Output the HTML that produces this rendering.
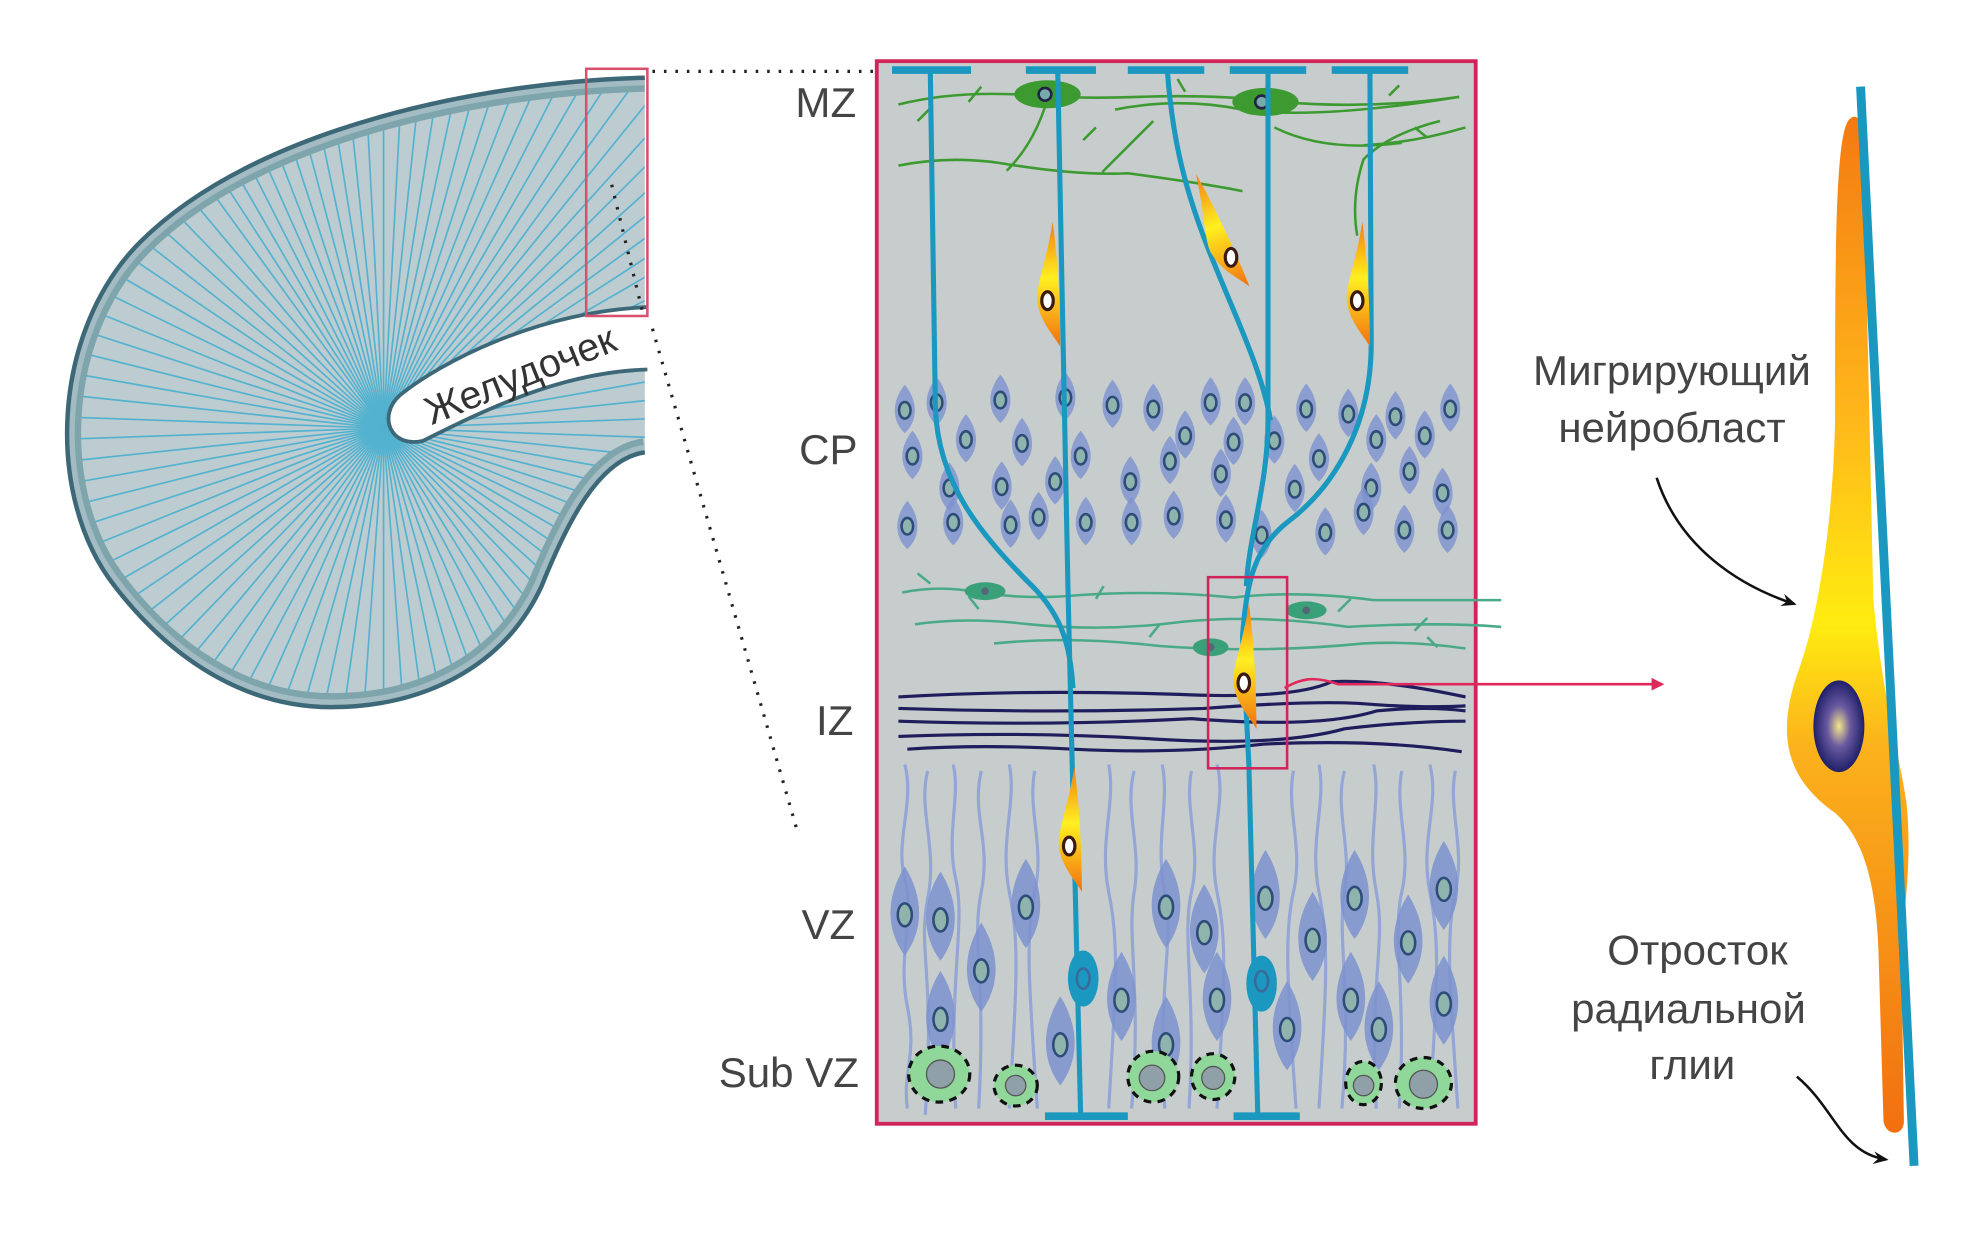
<!DOCTYPE html>
<html><head><meta charset="utf-8"><style>html,body{margin:0;padding:0;background:#fff}svg{display:block}</style></head><body>
<svg width="1988" height="1241" viewBox="0 0 1560 974" preserveAspectRatio="none" xmlns="http://www.w3.org/2000/svg" font-family="Liberation Sans, sans-serif">
<defs>
<clipPath id="hc"><path d="M506,61 C380,64 200,100 110,190 C40,260 35,390 90,460 C140,525 200,555 260,555 C330,555 395,525 425,460 C445,410 470,360 506,355 Z"/></clipPath>
<line id="r" x1="0" y1="0" x2="0" y2="-420" stroke="#52b2cf" stroke-width="1.3"/>
<g id="c"><path d="M0,-20 C10,-8 11,8 0,18 C-11,8 -10,-8 0,-20Z" fill="#7d92cf" opacity=".8"/><ellipse rx="4.5" ry="6.5" fill="#8fb3ad" stroke="#2d4c78" stroke-width="2"/></g>
<g id="v"><path d="M0,-38 C15,-14 15,12 0,32 C-15,12 -15,-14 0,-38Z" fill="#7d92cf" opacity=".85"/><ellipse rx="5.5" ry="9" fill="#8fb3ad" stroke="#2d4c78" stroke-width="2"/></g>
<linearGradient id="og" x1="0" y1="0" x2="0" y2="1"><stop offset="0" stop-color="#f47a12"/><stop offset=".3" stop-color="#ffb81a"/><stop offset=".5" stop-color="#ffec10"/><stop offset=".62" stop-color="#fbb21c"/><stop offset="1" stop-color="#f26f10"/></linearGradient>
<linearGradient id="sg" x1="0" y1="0" x2="0" y2="1"><stop offset="0" stop-color="#f47a12"/><stop offset=".45" stop-color="#fff020"/><stop offset="1" stop-color="#f26f10"/></linearGradient>
<radialGradient id="ng"><stop offset="0" stop-color="#f5e68a"/><stop offset=".45" stop-color="#6a5aa0"/><stop offset="1" stop-color="#1f1f6a"/></radialGradient>
<g id="m"><path d="M0,-58 C-4,-30 -14,-5 -12,5 C-10,20 0,30 6,40 C6,10 4,-30 0,-58Z" fill="url(#sg)"/><ellipse cx="-4" cy="4" rx="4.5" ry="7" fill="#fff" stroke="#3a1a10" stroke-width="2.5"/></g>
<marker id="ah" markerWidth="10" markerHeight="10" refX="8" refY="5" orient="auto" markerUnits="userSpaceOnUse"><path d="M0,0 L10,5 L0,10 Z" fill="#e0285a"/></marker>
<marker id="bh" markerWidth="12" markerHeight="12" refX="10" refY="6" orient="auto" markerUnits="userSpaceOnUse"><path d="M0,1 L12,6 L0,11 L4,6Z" fill="#111"/></marker>
</defs>

<!-- hemisphere -->
<path d="M506,61 C380,64 200,100 110,190 C40,260 35,390 90,460 C140,525 200,555 260,555 C330,555 395,525 425,460 C445,410 470,360 506,355 Z" fill="#bcccd0"/>
<g clip-path="url(#hc)"><g transform="translate(301,336)">
<use href="#r" transform="rotate(0)"/><use href="#r" transform="rotate(3)"/><use href="#r" transform="rotate(6)"/><use href="#r" transform="rotate(9)"/><use href="#r" transform="rotate(12)"/><use href="#r" transform="rotate(15)"/><use href="#r" transform="rotate(18)"/><use href="#r" transform="rotate(21)"/><use href="#r" transform="rotate(24)"/><use href="#r" transform="rotate(27)"/><use href="#r" transform="rotate(30)"/><use href="#r" transform="rotate(33)"/><use href="#r" transform="rotate(36)"/><use href="#r" transform="rotate(39)"/><use href="#r" transform="rotate(42)"/><use href="#r" transform="rotate(45)"/><use href="#r" transform="rotate(48)"/><use href="#r" transform="rotate(51)"/><use href="#r" transform="rotate(54)"/><use href="#r" transform="rotate(57)"/><use href="#r" transform="rotate(60)"/><use href="#r" transform="rotate(64)"/><use href="#r" transform="rotate(68)"/><use href="#r" transform="rotate(72)"/><use href="#r" transform="rotate(76)"/><use href="#r" transform="rotate(80)"/><use href="#r" transform="rotate(84)"/><use href="#r" transform="rotate(88)"/><use href="#r" transform="rotate(92)"/><use href="#r" transform="rotate(96)"/><use href="#r" transform="rotate(100)"/><use href="#r" transform="rotate(104)"/><use href="#r" transform="rotate(108)"/><use href="#r" transform="rotate(112)"/><use href="#r" transform="rotate(116)"/><use href="#r" transform="rotate(120)"/><use href="#r" transform="rotate(124)"/><use href="#r" transform="rotate(128)"/><use href="#r" transform="rotate(132)"/><use href="#r" transform="rotate(136)"/><use href="#r" transform="rotate(140)"/><use href="#r" transform="rotate(144)"/><use href="#r" transform="rotate(148)"/><use href="#r" transform="rotate(152)"/><use href="#r" transform="rotate(156)"/><use href="#r" transform="rotate(160)"/><use href="#r" transform="rotate(164)"/><use href="#r" transform="rotate(168)"/><use href="#r" transform="rotate(172)"/><use href="#r" transform="rotate(176)"/><use href="#r" transform="rotate(180)"/><use href="#r" transform="rotate(184)"/><use href="#r" transform="rotate(188)"/><use href="#r" transform="rotate(192)"/><use href="#r" transform="rotate(196)"/><use href="#r" transform="rotate(200)"/><use href="#r" transform="rotate(204)"/><use href="#r" transform="rotate(208)"/><use href="#r" transform="rotate(212)"/><use href="#r" transform="rotate(216)"/><use href="#r" transform="rotate(220)"/><use href="#r" transform="rotate(224)"/><use href="#r" transform="rotate(228)"/><use href="#r" transform="rotate(232)"/><use href="#r" transform="rotate(236)"/><use href="#r" transform="rotate(240)"/><use href="#r" transform="rotate(244)"/><use href="#r" transform="rotate(248)"/><use href="#r" transform="rotate(252)"/><use href="#r" transform="rotate(256)"/><use href="#r" transform="rotate(260)"/><use href="#r" transform="rotate(264)"/><use href="#r" transform="rotate(268)"/><use href="#r" transform="rotate(272)"/><use href="#r" transform="rotate(276)"/><use href="#r" transform="rotate(280)"/><use href="#r" transform="rotate(284)"/><use href="#r" transform="rotate(288)"/><use href="#r" transform="rotate(292)"/><use href="#r" transform="rotate(296)"/><use href="#r" transform="rotate(300)"/><use href="#r" transform="rotate(304)"/><use href="#r" transform="rotate(308)"/><use href="#r" transform="rotate(312)"/><use href="#r" transform="rotate(316)"/><use href="#r" transform="rotate(320)"/><use href="#r" transform="rotate(324)"/><use href="#r" transform="rotate(327)"/><use href="#r" transform="rotate(330)"/><use href="#r" transform="rotate(333)"/><use href="#r" transform="rotate(336)"/><use href="#r" transform="rotate(339)"/><use href="#r" transform="rotate(342)"/><use href="#r" transform="rotate(345)"/><use href="#r" transform="rotate(348)"/><use href="#r" transform="rotate(351)"/><use href="#r" transform="rotate(354)"/><use href="#r" transform="rotate(357)"/>
</g></g>
<g clip-path="url(#hc)"><path d="M506,61 C380,64 200,100 110,190 C40,260 35,390 90,460 C140,525 200,555 260,555 C330,555 395,525 425,460 C445,410 470,360 506,355" fill="none" stroke="#7ea4ac" stroke-width="22"/>
<path d="M506,61 C380,64 200,100 110,190 C40,260 35,390 90,460 C140,525 200,555 260,555 C330,555 395,525 425,460 C445,410 470,360 506,355" fill="none" stroke="#bcccd0" stroke-width="12" opacity=".6"/></g>
<path d="M506,61 C380,64 200,100 110,190 C40,260 35,390 90,460 C140,525 200,555 260,555 C330,555 395,525 425,460 C445,410 470,360 506,355" fill="none" stroke="#3d6878" stroke-width="3.5"/>
<path d="M510,241 C420,245 345,285 314,310 C296,326 306,352 332,346 C380,322 440,292 510,290 Z" fill="#fff"/>
<path d="M508,241 C420,245 345,285 314,310 C296,326 306,352 332,346 C380,322 440,292 508,290" fill="none" stroke="#3d6878" stroke-width="3"/>
<text x="0" y="0" transform="translate(412,304) rotate(-22)" text-anchor="middle" font-size="31" fill="#333">Желудочек</text>
<rect x="460" y="54" width="48" height="194" fill="none" stroke="#d9506e" stroke-width="2"/>

<!-- dotted -->
<g stroke="#222" stroke-width="2.5" stroke-dasharray="2 7" fill="none">
<line x1="512" y1="56" x2="686" y2="56"/><line x1="480" y1="145" x2="505" y2="248"/><line x1="512" y1="258" x2="625" y2="650"/></g>

<!-- column -->
<rect x="688" y="48" width="470" height="834" fill="#c7cdcd" stroke="#d0245a" stroke-width="3"/>

<!-- VZ wavy fibers -->
<g stroke="#8ea2d8" stroke-width="2.5" fill="none" opacity=".9">
<path d="M710,600 c8,30 -8,60 0,90 s-6,60 2,100 s-4,50 0,80"/><path d="M728,605 c-8,30 8,60 0,100 s6,60 -2,170"/><path d="M748,600 c6,25 -6,55 2,90 s-6,80 0,180"/><path d="M770,605 c-8,35 8,55 0,95 s4,60 -2,170"/><path d="M792,600 c6,30 -8,60 0,100 s6,70 0,170"/><path d="M812,605 c-6,30 8,60 0,95 s-4,80 2,170"/><path d="M870,600 c6,30 -8,60 0,100 s6,70 0,170"/><path d="M890,605 c-8,30 6,60 0,95 s6,80 -2,170"/><path d="M912,600 c6,30 -6,60 2,100 s-6,70 0,170"/><path d="M935,605 c-6,30 8,60 0,95 s4,80 -2,170"/><path d="M955,600 c8,30 -8,60 0,100 s6,70 0,170"/><path d="M1015,605 c-6,30 8,60 0,95 s-4,80 2,170"/><path d="M1035,600 c6,30 -8,60 0,100 s6,70 0,170"/><path d="M1055,605 c-8,30 6,60 0,95 s6,80 -2,170"/><path d="M1078,600 c6,30 -6,60 2,100 s-6,70 0,170"/><path d="M1100,605 c-6,30 8,60 0,95 s4,80 -2,170"/><path d="M1122,600 c8,30 -8,60 0,100 s6,70 0,170"/><path d="M1142,605 c-6,30 8,60 0,95 s-4,80 2,170"/>
</g>
<g>
<use href="#v" x="710" y="718"/><use href="#v" x="738" y="722"/><use href="#v" x="770" y="762"/><use href="#v" x="805" y="712"/><use href="#v" x="832" y="820"/><use href="#v" x="880" y="785"/><use href="#v" x="915" y="712"/><use href="#v" x="945" y="732"/><use href="#v" x="955" y="785"/><use href="#v" x="993" y="705"/><use href="#v" x="1010" y="808"/><use href="#v" x="1030" y="738"/><use href="#v" x="1063" y="705"/><use href="#v" x="1060" y="785"/><use href="#v" x="1082" y="808"/><use href="#v" x="1105" y="740"/><use href="#v" x="1133" y="698"/><use href="#v" x="1133" y="788"/><use href="#v" x="738" y="800"/><use href="#v" x="915" y="820"/>
</g>

<!-- Sub VZ -->
<g stroke="#111" stroke-width="2.5" stroke-dasharray="6 5">
<ellipse cx="737" cy="843" rx="24" ry="22" fill="#8fd89a"/><ellipse cx="797" cy="852" rx="17" ry="16" fill="#8fd89a"/><ellipse cx="905" cy="845" rx="20" ry="20" fill="#8fd89a"/><ellipse cx="952" cy="845" rx="17" ry="18" fill="#8fd89a"/><ellipse cx="1070" cy="850" rx="14" ry="17" fill="#8fd89a"/><ellipse cx="1117" cy="850" rx="22" ry="20" fill="#8fd89a"/></g>
<g fill="#8fa0a8" stroke="#555" stroke-width="1"><circle cx="738" cy="843" r="11"/><circle cx="797" cy="852" r="8"/><circle cx="904" cy="846" r="10"/><circle cx="952" cy="846" r="9"/><circle cx="1070" cy="852" r="8"/><circle cx="1117" cy="851" r="11"/></g>

<!-- CP cells -->
<g>
<use href="#c" x="710" y="322"/><use href="#c" x="735" y="316"/><use href="#c" x="785" y="314"/><use href="#c" x="836" y="312"/><use href="#c" x="873" y="318"/><use href="#c" x="905" y="321"/><use href="#c" x="950" y="316"/><use href="#c" x="977" y="316"/><use href="#c" x="1025" y="321"/><use href="#c" x="1058" y="325"/><use href="#c" x="1095" y="327"/><use href="#c" x="1138" y="321"/>
<use href="#c" x="716" y="358"/><use href="#c" x="758" y="345"/><use href="#c" x="802" y="348"/><use href="#c" x="848" y="358"/><use href="#c" x="930" y="342"/><use href="#c" x="968" y="347"/><use href="#c" x="1000" y="346"/><use href="#c" x="1035" y="360"/><use href="#c" x="1080" y="345"/><use href="#c" x="1118" y="342"/>
<use href="#c" x="745" y="383"/><use href="#c" x="786" y="382"/><use href="#c" x="828" y="378"/><use href="#c" x="887" y="378"/><use href="#c" x="918" y="362"/><use href="#c" x="958" y="372"/><use href="#c" x="1016" y="384"/><use href="#c" x="1076" y="383"/><use href="#c" x="1106" y="370"/><use href="#c" x="1132" y="387"/>
<use href="#c" x="712" y="413"/><use href="#c" x="748" y="410"/><use href="#c" x="793" y="412"/><use href="#c" x="815" y="406"/><use href="#c" x="852" y="410"/><use href="#c" x="888" y="410"/><use href="#c" x="921" y="405"/><use href="#c" x="962" y="408"/><use href="#c" x="1040" y="418"/><use href="#c" x="1070" y="402"/><use href="#c" x="1102" y="416"/><use href="#c" x="1136" y="416"/><use href="#c" x="990" y="420"/>
</g>

<!-- IZ green cells -->
<g stroke="#4aaa88" stroke-width="2" fill="none">
<path d="M708,465 q30,-6 60,0 q40,6 80,2 q60,-4 120,2 q50,-6 110,2 q50,0 100,0"/>
<path d="M718,490 q40,-6 90,0 q60,6 120,-2 q60,-6 130,4 q70,-4 120,0"/>
<path d="M780,505 q60,-6 130,2 q80,6 160,-2 q40,-2 80,4"/>
<path d="M730,458 l-10,-8 M760,468 l8,10 M860,470 l6,-10 M910,490 l-8,10 M1050,480 l10,-10 M1110,495 l10,-10 M1120,500 l8,8"/>
</g>
<g fill="#3aa07a"><ellipse cx="773" cy="464" rx="16" ry="7"/><ellipse cx="1025" cy="479" rx="16" ry="7"/><ellipse cx="950" cy="508" rx="14" ry="7"/></g>
<g fill="#567" ><circle cx="773" cy="464" r="3"/><circle cx="1025" cy="479" r="3"/><circle cx="950" cy="508" r="3"/></g>

<!-- IZ dark fibers -->
<g stroke="#1f1d5c" stroke-width="2.5" fill="none">
<path d="M705,547 q100,-6 220,-2 q90,4 120,-10 q40,-2 105,12"/>
<path d="M705,556 q120,4 240,0 q80,-6 120,-4 q50,4 85,2"/>
<path d="M705,566 q120,4 230,-2 q100,8 145,-6 q40,-4 70,0"/>
<path d="M705,578 q100,-4 200,2 q100,6 150,-8 q50,-6 95,-6"/>
<path d="M712,588 q60,-4 130,0 q80,4 150,-4 q90,-4 155,6"/>
</g>

<!-- MZ green -->
<g stroke="#3c9a30" stroke-width="2" fill="none">
<path d="M705,82 q40,-10 90,-8 q50,4 100,2 q60,-2 110,4 q70,6 140,-4"/>
<path d="M875,86 q50,-10 100,0 q60,8 170,-10"/>
<path d="M705,130 q40,-8 80,-2 q60,10 100,8 q60,8 90,14"/>
<path d="M820,84 q-10,30 -30,50 M905,95 q-20,20 -40,40 M1000,100 q40,20 100,12 M1130,95 q-40,10 -60,30 q-10,30 -5,60 M1150,100 q-40,12 -80,14 M720,95 l10,-10 M760,80 l10,-12 M850,110 l10,-10 M930,72 l-6,-10 M1090,75 l8,-8 M1110,100 l10,8"/>
</g>
<g fill="#3c9a30"><ellipse cx="822" cy="74" rx="26" ry="11"/><ellipse cx="993" cy="80" rx="26" ry="11"/></g>
<g fill="#7aa" stroke="#224" stroke-width="2"><circle cx="820" cy="74" r="5"/><circle cx="990" cy="80" r="5"/></g>

<!-- radial glia -->
<g stroke="#1a98c0" stroke-width="6" fill="none" stroke-linecap="butt">
<path d="M700,55 H762 M805,55 H860 M885,55 H945 M965,55 H1025 M1045,55 H1105 M820,876 H885 M968,876 H1020"/>
</g>
<g stroke="#1a98c0" stroke-width="4" fill="none">
<path d="M730,55 L734,320 C736,380 770,420 810,460 C835,485 840,510 842,540"/>
<path d="M830,55 L838,460 L848,876"/>
<path d="M916,55 C920,110 930,150 950,200 C970,250 990,290 997,330"/>
<path d="M995,55 L995,330 C995,380 980,420 978,460"/>
<path d="M1075,55 L1076,270 C1076,330 1050,380 1010,410 C985,430 978,455 975,500 L980,600 L987,876"/>
</g>
<g fill="#1a98c0"><ellipse cx="850" cy="768" rx="12" ry="22"/><ellipse cx="990" cy="772" rx="12" ry="22"/></g>
<g fill="none" stroke="#3a6a9a" stroke-width="2"><ellipse cx="850" cy="768" rx="5" ry="8"/><ellipse cx="990" cy="770" rx="5" ry="8"/></g>

<!-- migrating neurons -->
<use href="#m" x="826" y="232"/><use href="#m" x="1069" y="232"/><use href="#m" x="980" y="532"/><use href="#m" x="843" y="660"/>
<g transform="translate(960,190) rotate(-22)"><path d="M0,-58 C-4,-30 -14,-5 -12,5 C-10,20 0,30 6,40 C6,10 4,-30 0,-58Z" fill="url(#sg)"/></g>
<ellipse cx="966" cy="202" rx="4.5" ry="7" fill="#fff" stroke="#3a1a10" stroke-width="2.5"/>

<!-- IZ inset box and arrow -->
<rect x="948" y="453" width="62" height="150" fill="none" stroke="#d0245a" stroke-width="2"/>
<path d="M1008,540 C1020,533 1030,530 1050,537 L1304,537" fill="none" stroke="#e0285a" stroke-width="2" marker-end="url(#ah)"/>

<!-- labels -->
<g font-size="33" fill="#444" text-anchor="middle">
<text x="648" y="92">MZ</text><text x="650" y="364">CP</text><text x="655" y="577">IZ</text><text x="650" y="737">VZ</text><text x="619" y="853">Sub VZ</text>
<text x="1312" y="302">Мигрирующий</text><text x="1312" y="347">нейробласт</text>
<text x="1332" y="757">Отросток</text><text x="1325" y="803">радиальной</text><text x="1328" y="847">глии</text>
</g>

<!-- big neuroblast -->
<path d="M1452,93 C1440,100 1440,200 1440,330 C1438,420 1425,490 1410,530 C1395,575 1400,610 1440,638 C1465,660 1472,700 1474,745 L1478,880 C1480,892 1494,892 1494,880 L1492,745 C1496,700 1500,670 1496,630 C1490,590 1476,540 1470,470 L1462,100 C1460,92 1455,90 1452,93Z" fill="url(#og)"/>
<ellipse cx="1443" cy="570" rx="20" ry="36" fill="url(#ng)"/>
<line x1="1460" y1="68" x2="1502" y2="915" stroke="#1a98c0" stroke-width="7"/>
<path d="M1300,375 C1318,430 1365,460 1408,474" fill="none" stroke="#111" stroke-width="2" marker-end="url(#bh)"/>
<path d="M1410,845 C1440,870 1445,905 1480,910" fill="none" stroke="#111" stroke-width="2" marker-end="url(#bh)"/>
</svg>
</body></html>
